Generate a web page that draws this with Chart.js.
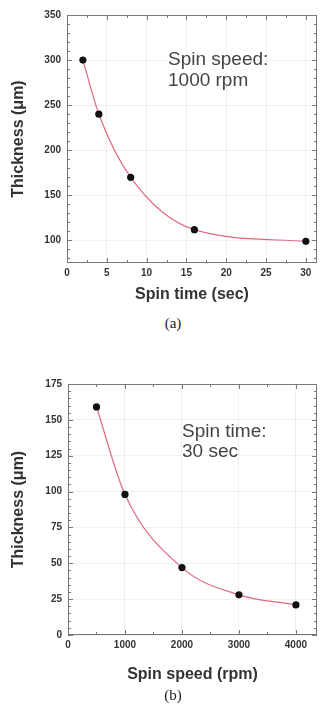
<!DOCTYPE html>
<html>
<head>
<meta charset="utf-8">
<script src="https://cdn.jsdelivr.net/npm/chart.js@4.4.0/dist/chart.umd.min.js"></script>
<style>
  html, body { margin: 0; padding: 0; background: #fff; }
  body { width: 321px; height: 724px; position: relative; overflow: hidden; }
  .box { position: absolute; left: 0; width: 321px; }
  .cap { position: absolute; left: 153px; width: 40px; text-align: center;
         font: 15px 'Liberation Serif', 'DejaVu Serif', serif; color: #222; line-height: 18px; }
</style>
</head>
<body>
<div class="box" style="top:0;height:310px"><canvas id="chart-a" width="321" height="310"></canvas></div>
<div class="cap" style="top:314px">(a)</div>
<div class="box" style="top:368px;height:320px"><canvas id="chart-b" width="321" height="320"></canvas></div>
<div class="cap" style="top:686px">(b)</div>

<script>
// (a) thickness vs spin time, 1000 rpm
const spinTime   = [2, 4, 8, 16, 30];
const thickTime  = [300, 240, 170, 112, 99];
const xTicksA    = [0, 5, 10, 15, 20, 25, 30];
const yTicksA    = [100, 150, 200, 250, 300, 350];

// (b) thickness vs spin speed, 30 sec
const spinSpeed  = [500, 1000, 2000, 3000, 4000];
const thickSpeed = [159, 98, 47, 28, 21];
const xTicksB    = [0, 1000, 2000, 3000, 4000];
const yTicksB    = [0, 25, 50, 75, 100, 125, 150, 175];

const FONT  = "'Liberation Sans', Arial, sans-serif";
const TEXT  = '#333';
const GRID  = 'rgba(0,0,0,0.06)';
const FRAME = '#777';
const CURVE = '#e06a80';

// box around the plot + inward ticks on all four sides
const framePlugin = {
  id: 'frame',
  beforeDatasetsDraw(chart, args, o) {
    const { ctx, chartArea: a, scales: { x, y } } = chart;
    ctx.save();
    ctx.strokeStyle = FRAME;
    ctx.lineWidth = 1;
    ctx.strokeRect(a.left + 0.5, a.top + 0.5, a.right - a.left - 1, a.bottom - a.top - 1);

    const marks = (scale, n) => {
      const vals = scale.ticks.map(t => t.value);
      const step = (vals[1] - vals[0]) / n;
      const out = [];
      for (let v = vals[0]; v >= scale.min; v -= step) out.push([v, vals.includes(v)]);
      for (let v = vals[0] + step; v <= scale.max + 1e-9; v += step) {
        const major = vals.some(m => Math.abs(m - v) < 1e-6);
        out.push([v, major]);
      }
      return out;
    };

    ctx.beginPath();
    marks(x, o.minorX).forEach(([v, major]) => {
      const px = Math.round(x.getPixelForValue(v)) + 0.5;
      const len = major ? 5 : 3;
      ctx.moveTo(px, a.bottom); ctx.lineTo(px, a.bottom - len);
      ctx.moveTo(px, a.top);    ctx.lineTo(px, a.top + len);
    });
    marks(y, o.minorY).forEach(([v, major]) => {
      const py = Math.round(y.getPixelForValue(v)) + 0.5;
      const len = major ? 5 : 3;
      ctx.moveTo(a.left, py);  ctx.lineTo(a.left + len, py);
      ctx.moveTo(a.right, py); ctx.lineTo(a.right - len, py);
    });
    ctx.stroke();
    ctx.restore();
  },
};

// the "Spin speed: / 1000 rpm" style note inside the plot
const notePlugin = {
  id: 'note',
  afterDraw(chart, args, o) {
    const { ctx } = chart;
    ctx.save();
    ctx.font = `${o.size}px ${FONT}`;
    ctx.fillStyle = '#444';
    ctx.textBaseline = 'alphabetic';
    o.lines.forEach((t, i) => ctx.fillText(t, o.x, o.y + i * o.gap));
    ctx.restore();
  },
};

function makeChart(id, xs, ys, cfg) {
  const pts = xs.map((v, i) => ({ x: v, y: ys[i] }));
  return new Chart(document.getElementById(id), {
    type: 'scatter',
    data: { datasets: [{
      data: pts,
      showLine: true,
      borderColor: CURVE,
      borderWidth: 1.2,
      cubicInterpolationMode: 'monotone',
      pointRadius: 3.6,
      pointBackgroundColor: '#111',
      pointBorderColor: '#111',
      pointBorderWidth: 0,
    }]},
    options: {
      responsive: false,
      animation: false,
      layout: { padding: { top: cfg.padTop, right: 3, left: 0, bottom: 0 } },
      plugins: {
        legend: { display: false },
        tooltip: { enabled: false },
        frame: { minorX: cfg.minorX, minorY: cfg.minorY },
        note: cfg.note,
      },
      scales: {
        x: {
          type: 'linear', min: cfg.xMin, max: cfg.xMax,
          afterBuildTicks: s => { s.ticks = cfg.xTicks.map(v => ({ value: v })); },
          afterFit: s => { s.height = cfg.xHeight; },
          grid: { color: GRID, drawTicks: false },
          border: { display: false },
          ticks: { color: TEXT, padding: 4, maxRotation: 0, callback: v => String(v),
                   font: { family: FONT, size: 10, weight: 'bold' } },
          title: { display: true, text: cfg.xTitle, color: TEXT, padding: { top: 0, bottom: cfg.xTitlePad },
                   font: { family: FONT, size: 16, weight: 'bold' } },
        },
        y: {
          type: 'linear', min: cfg.yMin, max: cfg.yMax,
          afterBuildTicks: s => { s.ticks = cfg.yTicks.map(v => ({ value: v })); },
          afterFit: s => { s.width = cfg.yWidth; },
          grid: { color: GRID, drawTicks: false },
          border: { display: false },
          ticks: { color: TEXT, padding: 6, callback: v => String(v),
                   font: { family: FONT, size: 10, weight: 'bold' } },
          title: { display: true, text: 'Thickness (μm)', color: TEXT, padding: { top: 9, bottom: 0 },
                   font: { family: FONT, size: 16, weight: 'bold' } },
        },
      },
    },
    plugins: [framePlugin, notePlugin],
  });
}

makeChart('chart-a', spinTime, thickTime, {
  padTop: 15, xHeight: 47, yWidth: 67, xTitlePad: 6,
  xMin: 0, xMax: 31.4, yMin: 75, yMax: 350,
  xTicks: xTicksA, yTicks: yTicksA, minorX: 2, minorY: 5,
  xTitle: 'Spin time (sec)',
  note: { lines: ['Spin speed:', '1000 rpm'], x: 168, y: 65, gap: 21, size: 19 },
});

makeChart('chart-b', spinSpeed, thickSpeed, {
  padTop: 16, xHeight: 53, yWidth: 68, xTitlePad: 4,
  xMin: 0, xMax: 4370, yMin: 0, yMax: 175,
  xTicks: xTicksB, yTicks: yTicksB, minorX: 2, minorY: 5,
  xTitle: 'Spin speed (rpm)',
  note: { lines: ['Spin time:', '30 sec'], x: 182, y: 69, gap: 20, size: 19 },
});
</script>
</body>
</html>
